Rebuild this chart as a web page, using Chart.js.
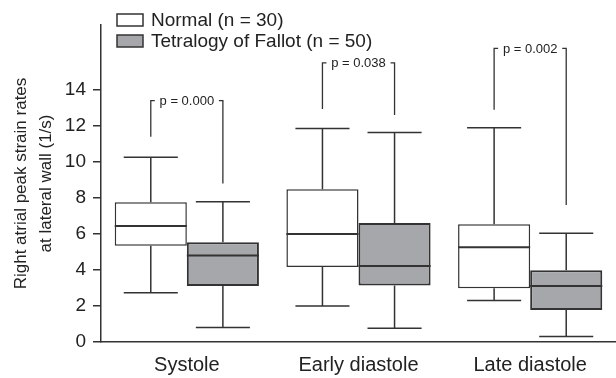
<!DOCTYPE html>
<html>
<head>
<meta charset="utf-8">
<script src="https://cdn.jsdelivr.net/npm/chart.js@4.4.1/dist/chart.umd.min.js"></script>
<style>
  html, body { margin: 0; padding: 0; background: #fff; }
</style>
</head>
<body>
<canvas id="strainChart" width="616" height="378"></canvas>
<script>
// values (1/s)
const categories = ['Systole', 'Early diastole', 'Late diastole'];

const normalMin    = [2.74, 2.00, 2.31];
const normalQ1     = [5.35, 4.17, 2.98];
const normalMedian = [6.44, 6.00, 5.26];
const normalQ3     = [7.76, 8.48, 6.54];
const normalMax    = [10.26, 11.85, 11.90];

const tofMin    = [0.80, 0.76, 0.30];
const tofQ1     = [3.11, 3.13, 1.78];
const tofMedian = [4.80, 4.22, 3.11];
const tofQ3     = [5.54, 6.61, 3.98];
const tofMax    = [7.78, 11.63, 6.04];

// p-value brackets: top line, foot of left leg, foot of right leg
const pLabels      = ['p = 0.000', 'p = 0.038', 'p = 0.002'];
const bracketTop   = [13.40, 15.50, 16.30];
const bracketLeft  = [11.40, 12.93, 12.90];
const bracketRight = [8.80, 12.60, 7.60];

const yTicks = [0, 2, 4, 6, 8, 10, 12, 14];

const INK = '#333';
const TEXT = '#222';
const FONT = "'Liberation Sans', Arial, Helvetica, sans-serif";

Chart.defaults.font.family = FONT;

const whiskers = {
  normal: { min: normalMin, median: normalMedian, max: normalMax },
  tof: { min: tofMin, median: tofMedian, max: tofMax }
};

// whiskers, caps and medians on top of the floating bars
const boxPlotPlugin = {
  id: 'boxPlot',
  afterDatasetsDraw(chart) {
    const ctx = chart.ctx;
    const y = chart.scales.y;
    chart.data.datasets.forEach((ds, d) => {
      const w = whiskers[ds.key];
      const meta = chart.getDatasetMeta(d);
      meta.data.forEach((el, i) => {
        const { x, width } = el.getProps(['x', 'width'], true);
        const cap = width * 0.375;
        const [q1, q3] = ds.data[i];
        ctx.save();
        ctx.strokeStyle = INK;
        ctx.lineWidth = 1.5;
        ctx.beginPath();
        ctx.moveTo(x, y.getPixelForValue(q3));
        ctx.lineTo(x, y.getPixelForValue(w.max[i]));
        ctx.moveTo(x - cap, y.getPixelForValue(w.max[i]));
        ctx.lineTo(x + cap, y.getPixelForValue(w.max[i]));
        ctx.moveTo(x, y.getPixelForValue(q1));
        ctx.lineTo(x, y.getPixelForValue(w.min[i]));
        ctx.moveTo(x - cap, y.getPixelForValue(w.min[i]));
        ctx.lineTo(x + cap, y.getPixelForValue(w.min[i]));
        ctx.stroke();
        ctx.lineWidth = 2;
        ctx.beginPath();
        ctx.moveTo(x - width / 2, y.getPixelForValue(w.median[i]));
        ctx.lineTo(x + width / 2, y.getPixelForValue(w.median[i]));
        ctx.stroke();
        ctx.restore();
      });
    });
  }
};

const bracketPlugin = {
  id: 'pBrackets',
  afterDatasetsDraw(chart) {
    const ctx = chart.ctx;
    const y = chart.scales.y;
    const m0 = chart.getDatasetMeta(0);
    const m1 = chart.getDatasetMeta(1);
    categories.forEach((c, i) => {
      const xl = m0.data[i].x;
      const xr = m1.data[i].x;
      const yt = y.getPixelForValue(bracketTop[i]);
      ctx.save();
      ctx.strokeStyle = INK;
      ctx.lineWidth = 1.3;
      ctx.beginPath();
      ctx.moveTo(xl, y.getPixelForValue(bracketLeft[i]));
      ctx.lineTo(xl, yt);
      ctx.lineTo(xl + 4, yt);
      ctx.moveTo(xr, y.getPixelForValue(bracketRight[i]));
      ctx.lineTo(xr, yt);
      ctx.lineTo(xr - 4, yt);
      ctx.stroke();
      ctx.fillStyle = TEXT;
      ctx.font = '13px ' + FONT;
      ctx.textAlign = 'center';
      ctx.textBaseline = 'middle';
      ctx.fillText(pLabels[i], (xl + xr) / 2, yt + 1);
      ctx.restore();
    });
  }
};

const legendPlugin = {
  id: 'boxLegend',
  afterDraw(chart) {
    const ctx = chart.ctx;
    ctx.save();
    ctx.font = '19px ' + FONT;
    ctx.textBaseline = 'middle';
    chart.data.datasets.forEach((ds, d) => {
      const top = 14 + d * 21;
      ctx.fillStyle = ds.backgroundColor;
      ctx.fillRect(117, top, 26, 12);
      ctx.strokeStyle = INK;
      ctx.lineWidth = 1.5;
      ctx.strokeRect(117, top, 26, 12);
      ctx.fillStyle = TEXT;
      ctx.fillText(ds.label, 151, top + 7);
    });
    ctx.restore();
  }
};

new Chart(document.getElementById('strainChart'), {
  type: 'bar',
  data: {
    labels: categories,
    datasets: [
      {
        key: 'normal',
        label: 'Normal (n = 30)',
        data: categories.map((c, i) => [normalQ1[i], normalQ3[i]]),
        backgroundColor: '#ffffff',
        borderColor: INK,
        borderWidth: 1.5,
        borderSkipped: false
      },
      {
        key: 'tof',
        label: 'Tetralogy of Fallot (n = 50)',
        data: categories.map((c, i) => [tofQ1[i], tofQ3[i]]),
        backgroundColor: '#a6a7aa',
        borderColor: '#333',
        borderWidth: 2,
        borderSkipped: false
      }
    ]
  },
  options: {
    responsive: false,
    animation: false,
    layout: { padding: { top: 25, right: 0, left: 0, bottom: 0 } },
    datasets: { bar: { categoryPercentage: 0.84, barPercentage: 1.0 } },
    plugins: { legend: { display: false }, tooltip: { enabled: false } },
    scales: {
      x: {
        afterFit: s => { s.height = 36; },
        grid: { drawOnChartArea: false, drawTicks: false },
        border: { color: INK, width: 1.5 },
        ticks: { color: TEXT, font: { size: 20 }, padding: 11 }
      },
      y: {
        min: 0,
        max: 17.6,
        afterBuildTicks: s => { s.ticks = yTicks.map(v => ({ value: v })); },
        afterFit: s => { s.width = 101; },
        grid: { drawOnChartArea: false, drawTicks: true, tickLength: 8, color: INK, lineWidth: 1.5 },
        border: { color: INK, width: 1.5 },
        ticks: { color: TEXT, font: { size: 19 }, padding: 7 },
        title: {
          display: true,
          text: ['Right atrial peak strain rates', 'at lateral wall (1/s)'],
          color: TEXT,
          font: { size: 17, lineHeight: 1.45 },
          padding: { top: 9, bottom: 0 }
        }
      }
    }
  },
  plugins: [boxPlotPlugin, bracketPlugin, legendPlugin]
});
</script>
</body>
</html>
